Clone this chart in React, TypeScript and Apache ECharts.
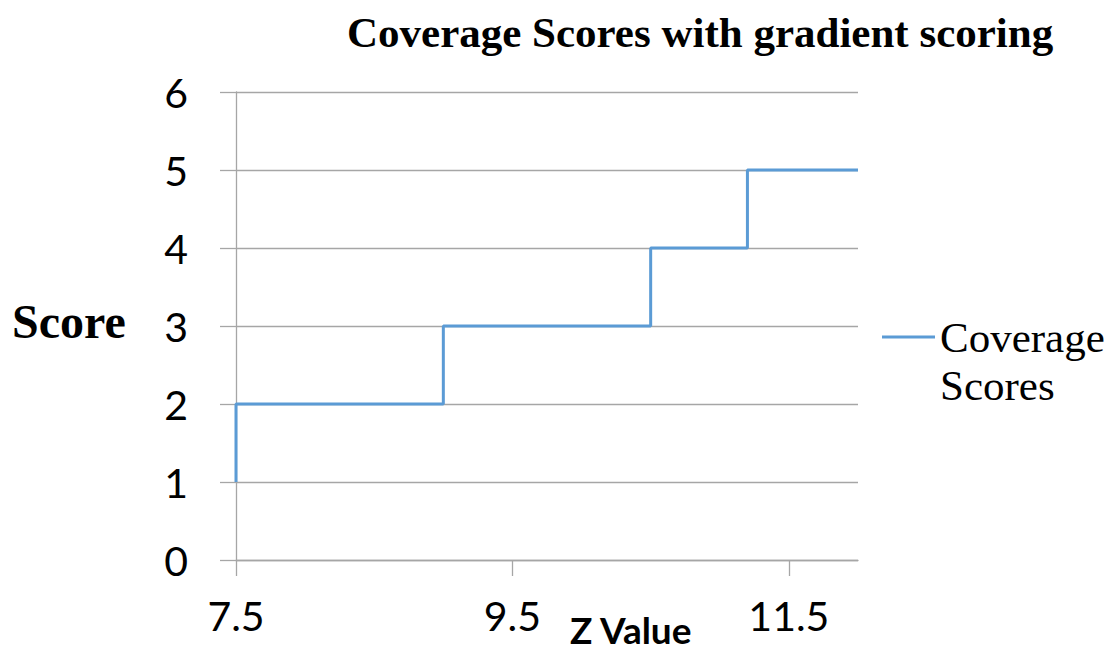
import React, { useEffect, useRef } from "react";
import * as echarts from "echarts";

const titleText = "Coverage Scores with gradient scoring";
const seriesName = "Coverage Scores";
const zValues = [7.5, 7.5, 9, 10.5, 11.2, 12];
const scores = [1, 2, 3, 4, 5, 5];
const xTickValues = [7.5, 9.5, 11.5];
const yAxisName = "Score";
const xAxisName = "Z Value";

const GRID = "#a6a6a6";

export default function App() {
  const ref = useRef<HTMLDivElement>(null);
  useEffect(() => {
    if (!ref.current) return;
    const chart = echarts.init(ref.current, null, { renderer: "svg" });
    const data = zValues.map((z, i) => [z, scores[i]]);
    chart.setOption({
      animation: false,
      backgroundColor: "#ffffff",
      title: {
        text: titleText,
        left: 347,
        top: 11,
        padding: 0,
        textStyle: {
          fontFamily: "Liberation Serif",
          fontWeight: "bold",
          fontSize: 43,
          color: "#000",
        },
      },
      legend: {
        left: 882,
        top: 265,
        padding: 0,
        icon: "rect",
        itemWidth: 53,
        itemHeight: 3,
        formatter: () => "\nCoverage\nScores",
        textStyle: {
          fontFamily: "Liberation Serif",
          fontSize: 43,
          lineHeight: 48,
          color: "#000",
        },
        data: [seriesName],
      },
      grid: { left: 236, right: 255, top: 92, bottom: 93, containLabel: false },
      xAxis: {
        type: "value",
        min: 7.5,
        max: 12,
        splitLine: { show: false },
        axisLine: { show: true, lineStyle: { color: GRID, width: 1.3 } },
        axisTick: {
          show: true,
          customValues: xTickValues,
          length: 16,
          lineStyle: { color: GRID, width: 1.3 },
        },
        axisLabel: {
          customValues: xTickValues,
          margin: 35,
          fontFamily: "Lato",
          fontSize: 41,
          color: "#000",
          formatter: (v: number) => v.toFixed(1),
        },
      },
      yAxis: {
        type: "value",
        min: 0,
        max: 6,
        interval: 1,
        splitLine: { show: true, lineStyle: { color: GRID, width: 1.3 } },
        axisLine: { show: true, lineStyle: { color: GRID, width: 1.3 } },
        axisTick: { show: true, length: 16, lineStyle: { color: GRID, width: 1.3 } },
        axisLabel: {
          margin: 48,
          fontFamily: "Lato",
          fontSize: 41,
          color: "#000",
        },
      },
      graphic: [
        {
          type: "text",
          left: 12,
          top: 297,
          style: {
            text: yAxisName,
            fontFamily: "Liberation Serif",
            fontWeight: "bold",
            fontSize: 48,
            fill: "#000",
          },
        },
        {
          type: "text",
          left: 570,
          top: 611,
          style: {
            text: xAxisName,
            fontFamily: "Lato",
            fontWeight: "bold",
            fontSize: 37,
            fill: "#000",
          },
        },
      ],
      series: [
        {
          name: seriesName,
          type: "line",
          step: "end",
          showSymbol: false,
          symbol: "none",
          data,
          lineStyle: { color: "#5b9bd5", width: 3 },
          itemStyle: { color: "#5b9bd5" },
        },
      ],
    });
    return () => chart.dispose();
  }, []);
  return <div ref={ref} style={{ width: 1113, height: 653, margin: -8 }} />;
}
